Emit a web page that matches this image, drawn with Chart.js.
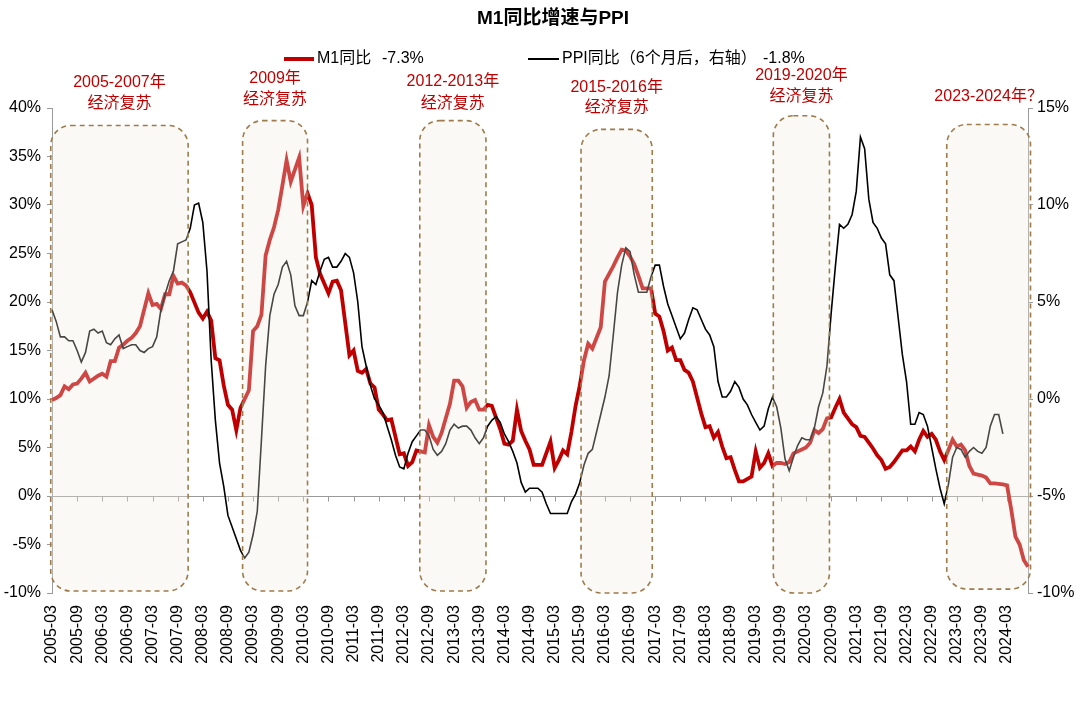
<!DOCTYPE html>
<html>
<head>
<meta charset="utf-8">
<script src="https://cdn.jsdelivr.net/npm/chart.js@4.4.1/dist/chart.umd.min.js"></script>
<style>
  html, body { margin: 0; padding: 0; background: #fff; }
</style>
</head>
<body>
<canvas id="chart" width="1080" height="703"></canvas>
<script>
const FONT = '"Liberation Sans", "Noto Sans CJK SC", sans-serif';

// monthly categories 2005-03 .. 2024-08
const months = [];
for (let yr = 2005; yr <= 2024; yr++) {
  for (let m = 1; m <= 12; m++) {
    if ((yr === 2005 && m < 3) || (yr === 2024 && m > 8)) continue;
    months.push(yr + '-' + String(m).padStart(2, '0'));
  }
}

// M1 YoY, %, January not shown (line joins Dec -> Feb)
const m1 = [
  9.9, 10.1, 10.4, 11.3, 11.0, 11.5, 11.6, 12.1, 12.7, 11.8,                 // 2005 Mar-Dec
  null, 12.4, 12.6, 12.3, 13.9, 13.9, 15.3, 15.6, 16.0, 16.3, 16.8, 17.5,    // 2006
  null, 20.9, 19.7, 19.8, 19.3, 20.8, 20.8, 22.7, 21.9, 22.0, 21.7, 21.0,    // 2007
  null, 18.9, 18.3, 19.0, 18.1, 14.2, 14.0, 11.4, 9.4, 8.9, 6.8, 9.1,        // 2008
  null, 10.9, 17.0, 17.5, 18.7, 24.8, 26.4, 27.7, 29.5, 32.0, 34.6, 32.4,    // 2009
  null, 34.9, 29.9, 31.2, 30.0, 24.6, 22.9, 21.9, 20.9, 22.1, 22.2, 21.2,    // 2010
  null, 14.5, 15.0, 12.9, 12.7, 13.1, 11.6, 11.2, 8.9, 8.4, 7.8, 7.9,        // 2011
  null, 4.3, 4.4, 3.1, 3.5, 4.7, 4.6, 4.5, 7.3, 6.1, 5.5, 6.5,               // 2012
  null, 9.5, 11.9, 11.9, 11.3, 9.1, 9.7, 9.9, 8.9, 8.9, 9.4, 9.3,            // 2013
  null, 6.9, 5.4, 5.3, 5.7, 8.9, 6.7, 5.7, 4.8, 3.2, 3.2, 3.2,               // 2014
  null, 5.6, 2.9, 3.7, 4.7, 4.3, 6.6, 9.3, 11.4, 14.0, 15.7, 15.2,           // 2015
  null, 17.4, 22.1, 22.9, 23.7, 24.6, 25.4, 25.3, 24.7, 23.9, 22.7, 21.4,    // 2016
  null, 21.4, 18.8, 18.5, 17.0, 15.0, 15.3, 14.0, 14.0, 13.0, 12.7, 11.8,    // 2017
  null, 8.5, 7.1, 7.2, 6.0, 6.6, 5.1, 3.9, 4.0, 2.7, 1.5, 1.5,               // 2018
  null, 2.0, 4.6, 2.9, 3.4, 4.4, 3.1, 3.4, 3.4, 3.3, 3.5, 4.4,               // 2019
  null, 4.8, 5.0, 5.5, 6.8, 6.5, 6.9, 8.0, 8.1, 9.1, 10.0, 8.6,              // 2020
  null, 7.4, 7.1, 6.2, 6.1, 5.5, 4.9, 4.2, 3.7, 2.8, 3.0, 3.5,               // 2021
  null, 4.7, 4.7, 5.1, 4.6, 5.8, 6.7, 6.1, 6.4, 5.8, 4.6, 3.7,               // 2022
  null, 5.8, 5.1, 5.3, 4.7, 3.1, 2.3, 2.2, 2.1, 1.9, 1.3, 1.3,               // 2023
  null, 1.2, 1.1, -1.4, -4.2, -5.0, -6.6, -7.3                               // 2024 Jan-Aug
];

// PPI YoY, %, shifted 6 months earlier (value at 2005-03 is PPI of 2005-09)
const ppi = [
  4.6, 4.0, 3.2, 3.2,
  3.0, 3.0, 2.5, 1.9, 2.4, 3.5, 3.6, 3.4, 3.5, 2.9, 2.8, 3.1,
  3.3, 2.6, 2.7, 2.8, 2.8, 2.5, 2.4, 2.6, 2.7, 3.2, 4.6, 5.4,
  6.1, 6.6, 8.0, 8.1, 8.2, 8.8, 10.0, 10.1, 9.1, 6.6, 2.0, -1.1,
  -3.3, -4.5, -6.0, -6.6, -7.2, -7.8, -8.2, -7.9, -7.0, -5.8, -2.1, 1.7,
  4.3, 5.4, 5.9, 6.8, 7.1, 6.4, 4.8, 4.3, 4.3, 5.0, 6.1, 5.9,
  6.6, 7.2, 7.3, 6.8, 6.8, 7.1, 7.5, 7.3, 6.5, 5.0, 2.7, 1.7,
  0.7, 0.0, -0.3, -0.7, -1.4, -2.1, -2.9, -3.5, -3.6, -2.8, -2.2, -1.9,
  -1.6, -1.6, -1.9, -2.6, -2.9, -2.7, -2.3, -1.6, -1.3, -1.5, -1.4, -1.4,
  -1.6, -2.0, -2.3, -2.0, -1.4, -1.1, -0.9, -1.2, -1.8, -2.2, -2.7, -3.3,
  -4.3, -4.8, -4.6, -4.6, -4.6, -4.8, -5.4, -5.9, -5.9, -5.9, -5.9, -5.9,
  -5.3, -4.9, -4.3, -3.4, -2.8, -2.6, -1.7, -0.8, 0.1, 1.2, 3.3, 5.5,
  6.9, 7.8, 7.6, 6.4, 5.5, 5.5, 5.5, 6.3, 6.9, 6.9, 5.8, 4.9,
  4.3, 3.7, 3.1, 3.4, 4.1, 4.7, 4.6, 4.1, 3.6, 3.3, 2.7, 0.9,
  0.1, 0.1, 0.4, 0.9, 0.6, 0.0, -0.3, -0.8, -1.2, -1.6, -1.4, -0.5,
  0.1, -0.4, -1.5, -3.1, -3.7, -3.0, -2.4, -2.0, -2.1, -2.1, -1.5, -0.4,
  0.3, 1.7, 4.4, 6.8, 9.0, 8.8, 9.0, 9.5, 10.7, 13.5, 12.9, 10.3,
  9.1, 8.8, 8.3, 8.0, 6.4, 6.1, 4.2, 2.3, 0.9, -1.3, -1.3, -0.7,
  -0.8, -1.4, -2.5, -3.6, -4.6, -5.4, -4.4, -3.0, -2.5, -2.6, -3.0, -2.7,
  -2.5, -2.7, -2.8, -2.5, -1.4, -0.8, -0.8, -1.8,
  null, null, null, null, null, null
];

// recovery periods: month index range, left-axis value range, label lines and their pixel rows
const periods = [
  { from: -0.3, to: 32.5,  top: 38.2, bottom: -9.8,  text: ['2005-2007年', '经济复苏'], rows: [83, 104] },
  { from: 45.5, to: 61.0,  top: 38.7, bottom: -9.8,  text: ['2009年', '经济复苏'], rows: [79, 100] },
  { from: 87.8, to: 103.6, top: 38.7, bottom: -9.8,  text: ['2012-2013年', '经济复苏'], rows: [82, 104] },
  { from: 126.3, to: 143.3, top: 37.8, bottom: -10.0, text: ['2015-2016年', '经济复苏'], rows: [88, 108] },
  { from: 172.2, to: 185.6, top: 39.2, bottom: -10.0, text: ['2019-2020年', '经济复苏'], rows: [76, 97] },
  { from: 213.6, to: 233.6, top: 38.3, bottom: -9.6,  text: ['2023-2024年？'], rows: [97] }
];

function roundRect(ctx, x0, y0, x1, y1, r) {
  ctx.beginPath();
  ctx.moveTo(x0 + r, y0);
  ctx.lineTo(x1 - r, y0);
  ctx.arcTo(x1, y0, x1, y0 + r, r);
  ctx.lineTo(x1, y1 - r);
  ctx.arcTo(x1, y1, x1 - r, y1, r);
  ctx.lineTo(x0 + r, y1);
  ctx.arcTo(x0, y1, x0, y1 - r, r);
  ctx.lineTo(x0, y0 + r);
  ctx.arcTo(x0, y0, x0 + r, y0, r);
  ctx.closePath();
}

const decor = {
  id: 'decor',
  beforeDatasetsDraw(chart) {
    const { ctx, chartArea: a, scales: { x, y } } = chart;
    const y0 = Math.round(y.getPixelForValue(0)) + 0.5;
    ctx.save();
    ctx.strokeStyle = '#9a9a9a';
    ctx.lineWidth = 1;
    ctx.beginPath();
    ctx.moveTo(a.left, y0);
    ctx.lineTo(a.right, y0);
    months.forEach((m, i) => {
      if (i % 6 === 0 && i > 0) {
        const px = Math.round(x.getPixelForValue(i)) + 0.5;
        ctx.moveTo(px, y0);
        ctx.lineTo(px, y0 + 5);
      }
    });
    ctx.stroke();
    ctx.restore();
  },
  afterDatasetsDraw(chart) {
    const { ctx, scales: { x, y } } = chart;
    ctx.save();
    periods.forEach(p => {
      const x0 = x.getPixelForValue(p.from), x1 = x.getPixelForValue(p.to);
      const y0 = y.getPixelForValue(p.top), y1 = y.getPixelForValue(p.bottom);
      roundRect(ctx, x0, y0, x1, y1, 20);
      ctx.fillStyle = 'rgba(240,235,225,0.3)';
      ctx.fill();
      ctx.setLineDash([5, 4]);
      ctx.lineWidth = 1.6;
      ctx.strokeStyle = '#9e7b4b';
      ctx.stroke();
      ctx.setLineDash([]);
      ctx.fillStyle = '#c00000';
      ctx.font = '16px ' + FONT;
      ctx.textAlign = 'center';
      ctx.textBaseline = 'middle';
      p.text.forEach((t, k) => ctx.fillText(t, (x0 + x1) / 2, p.rows[k]));
    });
    ctx.restore();
  },
  afterDraw(chart) {
    const { ctx } = chart;
    ctx.save();
    ctx.fillStyle = '#000';
    ctx.textBaseline = 'middle';
    ctx.textAlign = 'center';
    ctx.font = 'bold 19px ' + FONT;
    ctx.fillText('M1同比增速与PPI', 553, 19);
    // legend
    ctx.font = '16px ' + FONT;
    ctx.textAlign = 'left';
    ctx.lineCap = 'butt';
    ctx.strokeStyle = '#c00000';
    ctx.lineWidth = 4;
    ctx.beginPath(); ctx.moveTo(284, 59); ctx.lineTo(314, 59); ctx.stroke();
    ctx.fillText('M1同比', 317, 59);
    ctx.fillText('-7.3%', 382, 59);
    ctx.strokeStyle = '#000';
    ctx.lineWidth = 2;
    ctx.beginPath(); ctx.moveTo(528, 59); ctx.lineTo(559, 59); ctx.stroke();
    ctx.fillText('PPI同比（6个月后，右轴）', 562, 59);
    ctx.fillText('-1.8%', 763, 59);
    ctx.restore();
  }
};

const tickFont = { family: FONT, size: 16 };

new Chart(document.getElementById('chart'), {
  type: 'line',
  data: {
    labels: months,
    datasets: [{
      label: 'M1同比',
      data: m1,
      yAxisID: 'y',
      borderColor: '#c00000',
      borderWidth: 3.8,
      pointRadius: 0,
      spanGaps: true,
      tension: 0,
      order: 2
    }, {
      label: 'PPI同比（6个月后，右轴）',
      data: ppi,
      yAxisID: 'y1',
      borderColor: '#000000',
      borderWidth: 1.6,
      pointRadius: 0,
      spanGaps: true,
      tension: 0,
      order: 1
    }]
  },
  options: {
    responsive: false,
    animation: false,
    layout: { padding: { top: 108, bottom: 0, left: 0, right: 0 } },
    plugins: { legend: { display: false }, tooltip: { enabled: false } },
    scales: {
      x: {
        offset: false,
        grid: { display: false },
        border: { display: false },
        ticks: {
          autoSkip: false,
          minRotation: 90,
          maxRotation: 90,
          padding: 4,
          color: '#000',
          font: tickFont,
          callback: (v, i) => (i % 6 === 0 ? months[i] : null)
        },
        afterFit: s => { s.height = 110; }
      },
      y: {
        position: 'left',
        min: -10, max: 40,
        ticks: { stepSize: 5, padding: 6, color: '#000', font: tickFont, callback: v => v + '%' },
        grid: { drawOnChartArea: false, drawTicks: true, tickLength: 5, color: '#9a9a9a' },
        border: { display: true, color: '#9a9a9a' },
        afterFit: s => { s.width = 52; }
      },
      y1: {
        position: 'right',
        min: -10, max: 15,
        ticks: { stepSize: 5, padding: 4, color: '#000', font: tickFont, callback: v => v + '%' },
        grid: { drawOnChartArea: false, drawTicks: true, tickLength: 5, color: '#9a9a9a' },
        border: { display: true, color: '#9a9a9a' },
        afterFit: s => { s.width = 52; }
      }
    }
  },
  plugins: [decor]
});
</script>
</body>
</html>
